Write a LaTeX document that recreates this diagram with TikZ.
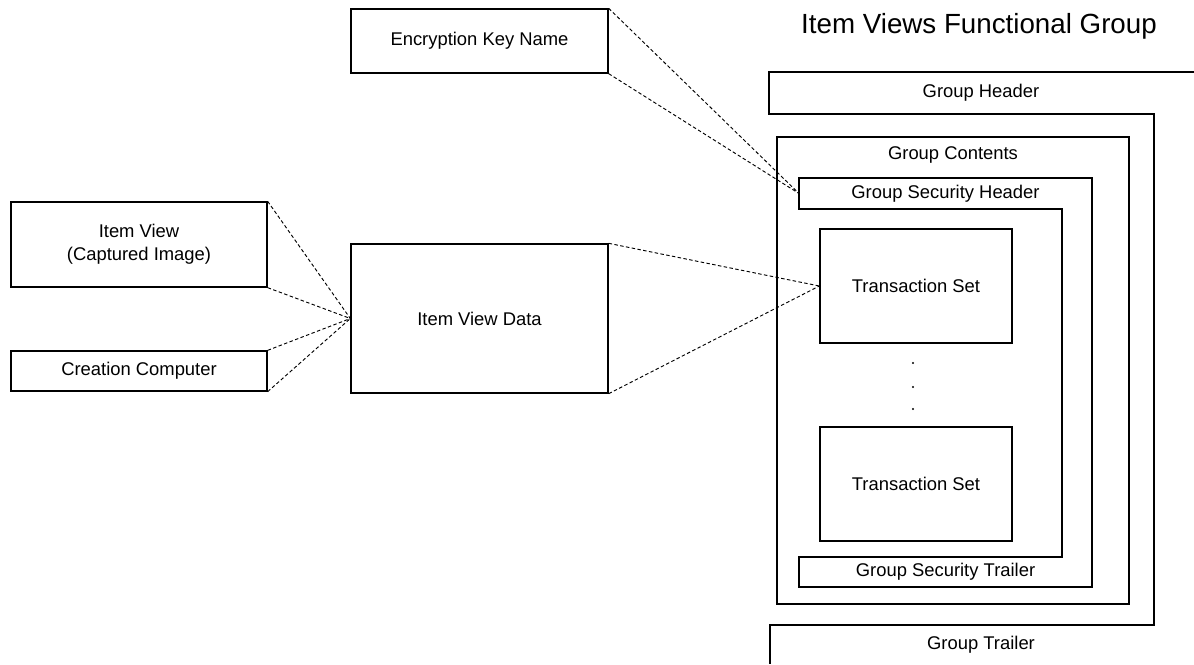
\documentclass[tikz,border=0pt]{standalone}
\usepackage{fontspec}
\setmainfont{Liberation Sans}
\begin{document}
\begin{tikzpicture}[x=0.75pt,y=-0.75pt,
  box/.style={draw, line width=1pt, rectangle, inner sep=0pt, align=center,
    font=\fontsize{13.8}{17}\selectfont},
  label/.style={inner sep=0pt, font=\fontsize{13.8}{17}\selectfont},
  wall/.style={draw, line width=1pt, line join=miter},
  link/.style={draw, line width=0.7pt, dash pattern=on 2.6pt off 1.8pt},
  dotmark/.style={circle, fill, inner sep=0pt, minimum size=1.6pt}]
\useasboundingbox (0,0) rectangle (1194,664);

% title
\node[anchor=base, inner sep=0pt, font=\fontsize{20.8}{25}\selectfont] (title) at (979,33) {Item Views Functional Group};

% group header / trailer outline
\path[wall] (1194,72) -- (769,72) -- (769,114) -- (1154,114) -- (1154,625) -- (770,625) -- (770,664);
\node[label] (gh) at (981,93) {Group Header};
\node[label] (gt) at (981,645) {Group Trailer};

% group contents
\node[box, minimum width=264pt, minimum height=350.25pt] (gc) at (953,370.5) {};
\node[label] (gctext) at (953,155) {Group Contents};

% group security header / trailer band
\path[wall] (1062,209) -- (799,209) -- (799,178) -- (1092,178) -- (1092,587)
  -- (799,587) -- (799,557) -- (1062,557) -- cycle;
\node[label] (gsh) at (945.5,193.5) {Group Security Header};
\node[label] (gst) at (945.5,572) {Group Security Trailer};
\coordinate (gshw) at (799,193.5);

% transaction sets
\node[box, minimum width=144pt, minimum height=85.5pt] (ts1) at (916,286) {Transaction Set};
\node[box, minimum width=144pt, minimum height=85.5pt] (ts2) at (916,484) {Transaction Set};
\node[dotmark] (d1) at (913,363) {};
\node[dotmark] (d2) at (913,387) {};
\node[dotmark] (d3) at (913,409) {};

% data elements
\node[box, minimum width=192.75pt, minimum height=48pt] (ekey) at (479.5,41) {Encryption Key Name};
\node[box, minimum width=192pt, minimum height=63.75pt] (iv) at (139,244.5) {Item View\\(Captured Image)};
\node[box, minimum width=192pt, minimum height=30pt] (cc) at (139,371) {Creation Computer};
\node[box, minimum width=192.75pt, minimum height=111.75pt] (ivd) at (479.5,318.5) {Item View Data};

% dashed expansion lines
\path[link] (ekey.north east) -- (gshw);
\path[link] (ekey.south east) -- (gshw);
\path[link] (iv.north east) -- (ivd.west);
\path[link] (iv.south east) -- (ivd.west);
\path[link] (cc.north east) -- (ivd.west);
\path[link] (cc.south east) -- (ivd.west);
\path[link] (ivd.north east) -- (ts1.west);
\path[link] (ivd.south east) -- (ts1.west);
\end{tikzpicture}
\end{document}
